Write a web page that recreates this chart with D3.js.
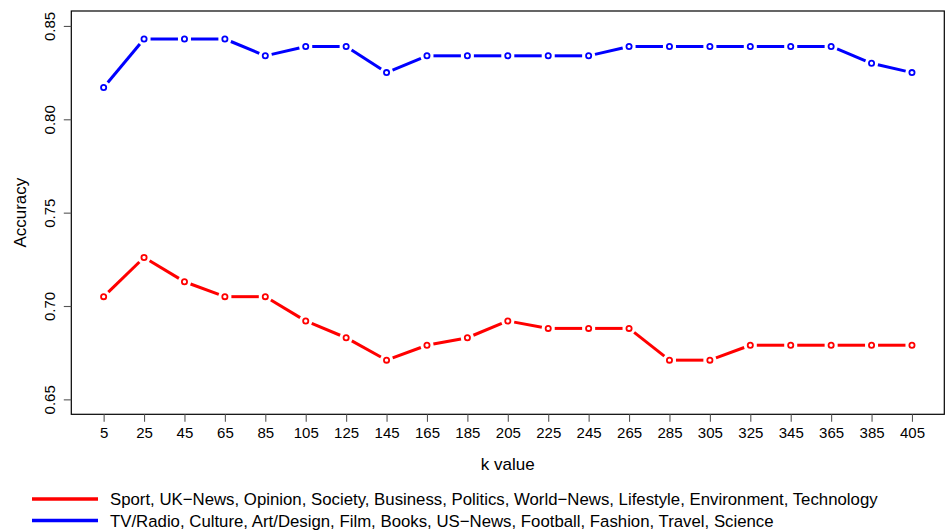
<!DOCTYPE html>
<html>
<head>
<meta charset="utf-8">
<script src="https://cdn.jsdelivr.net/npm/d3@7"></script>
<style>
  html, body { margin: 0; padding: 0; background: #fff; }
  text { font-family: "Liberation Sans", Arial, Helvetica, sans-serif; fill: #000; }
</style>
</head>
<body>
<svg id="chart" width="951" height="532"></svg>
<script>
// k values tested
const kValues = [5, 25, 45, 65, 85, 105, 125, 145, 165, 185, 205, 225, 245, 265, 285, 305, 325, 345, 365, 385, 405];

// Accuracy for the first group of sections (red)
const groupAAccuracy = [0.705, 0.726, 0.713, 0.705, 0.705, 0.692, 0.683, 0.671, 0.679, 0.683, 0.692,
                        0.688, 0.688, 0.688, 0.671, 0.671, 0.679, 0.679, 0.679, 0.679, 0.679];

// Accuracy for the second group of sections (blue)
const groupBAccuracy = [0.817, 0.843, 0.843, 0.843, 0.834, 0.839, 0.839, 0.825, 0.834, 0.834, 0.834,
                        0.834, 0.834, 0.839, 0.839, 0.839, 0.839, 0.839, 0.839, 0.830, 0.825];

const yTicks = [0.65, 0.70, 0.75, 0.80, 0.85];

const legendLabels = [
  "Sport, UK\u2212News, Opinion, Society, Business, Politics, World\u2212News, Lifestyle, Environment, Technology",
  "TV/Radio, Culture, Art/Design, Film, Books, US\u2212News, Football, Fashion, Travel, Science"
];
const seriesColors = ["#ff0000", "#0000ff"];

const svg = d3.select("#chart");
const plot = { left: 71.3, right: 944.3, top: 11, bottom: 414.3 };

// axis ranges padded by 4% on each side
const x = d3.scaleLinear().domain([-11, 421]).range([plot.left, plot.right]);
const y = d3.scaleLinear().domain([0.642, 0.858]).range([plot.bottom, plot.top]);

// plot frame
svg.append("rect")
  .attr("x", plot.left).attr("y", plot.top)
  .attr("width", plot.right - plot.left).attr("height", plot.bottom - plot.top)
  .attr("fill", "none").attr("stroke", "#000").attr("stroke-width", 1.2);

// x axis
const xAxis = d3.axisBottom(x).tickValues(kValues).tickSize(7.5).tickPadding(6).tickFormat(d3.format("d"));
const gx = svg.append("g").attr("transform", `translate(0,${plot.bottom})`).call(xAxis);
gx.select(".domain").remove();
gx.selectAll(".tick line").attr("stroke", "#555").attr("stroke-width", 1.1);
gx.selectAll(".tick text").attr("font-size", 15).attr("font-family", "Liberation Sans, Arial, sans-serif").attr("fill", "#000");

// y axis with vertical labels
const yAxis = d3.axisLeft(y).tickValues(yTicks).tickSize(7.5).tickFormat(d3.format(".2f"));
const gy = svg.append("g").attr("transform", `translate(${plot.left},0)`).call(yAxis);
gy.select(".domain").remove();
gy.selectAll(".tick line").attr("stroke", "#555").attr("stroke-width", 1.1);
gy.selectAll(".tick text")
  .attr("font-size", 15).attr("font-family", "Liberation Sans, Arial, sans-serif").attr("fill", "#000")
  .attr("x", null).attr("dy", null)
  .attr("text-anchor", "middle")
  .attr("transform", "translate(-16,0) rotate(-90)");

// axis titles
svg.append("text").attr("x", (plot.left + plot.right) / 2).attr("y", 470)
  .attr("text-anchor", "middle").attr("font-size", 17).text("k value");
svg.append("text").attr("transform", `translate(26,${(plot.top + plot.bottom) / 2}) rotate(-90)`)
  .attr("text-anchor", "middle").attr("font-size", 17).text("Accuracy");

// lines with gaps around the points, then open circles
const gap = 6.5;
function drawSeries(values, color) {
  const pts = kValues.map((k, i) => [x(k), y(values[i])]);
  const g = svg.append("g");
  for (let i = 0; i < pts.length - 1; i++) {
    const [x0, y0] = pts[i], [x1, y1] = pts[i + 1];
    const len = Math.hypot(x1 - x0, y1 - y0);
    if (len <= 2 * gap) continue;
    const ux = (x1 - x0) / len, uy = (y1 - y0) / len;
    g.append("line")
      .attr("x1", x0 + ux * gap).attr("y1", y0 + uy * gap)
      .attr("x2", x1 - ux * gap).attr("y2", y1 - uy * gap)
      .attr("stroke", color).attr("stroke-width", 3);
  }
  g.selectAll("circle").data(pts).join("circle")
    .attr("cx", d => d[0]).attr("cy", d => d[1]).attr("r", 2.6)
    .attr("fill", "#fff").attr("stroke", color).attr("stroke-width", 1.8);
}
drawSeries(groupAAccuracy, seriesColors[0]);
drawSeries(groupBAccuracy, seriesColors[1]);

// legend below the plot
const legendRows = [499, 520.5];
legendLabels.forEach((label, i) => {
  svg.append("line").attr("x1", 32).attr("x2", 98)
    .attr("y1", legendRows[i]).attr("y2", legendRows[i])
    .attr("stroke", seriesColors[i]).attr("stroke-width", 3.5);
  svg.append("text").attr("x", 110).attr("y", legendRows[i] + 6)
    .attr("font-size", 16.8).text(label);
});
</script>
</body>
</html>
